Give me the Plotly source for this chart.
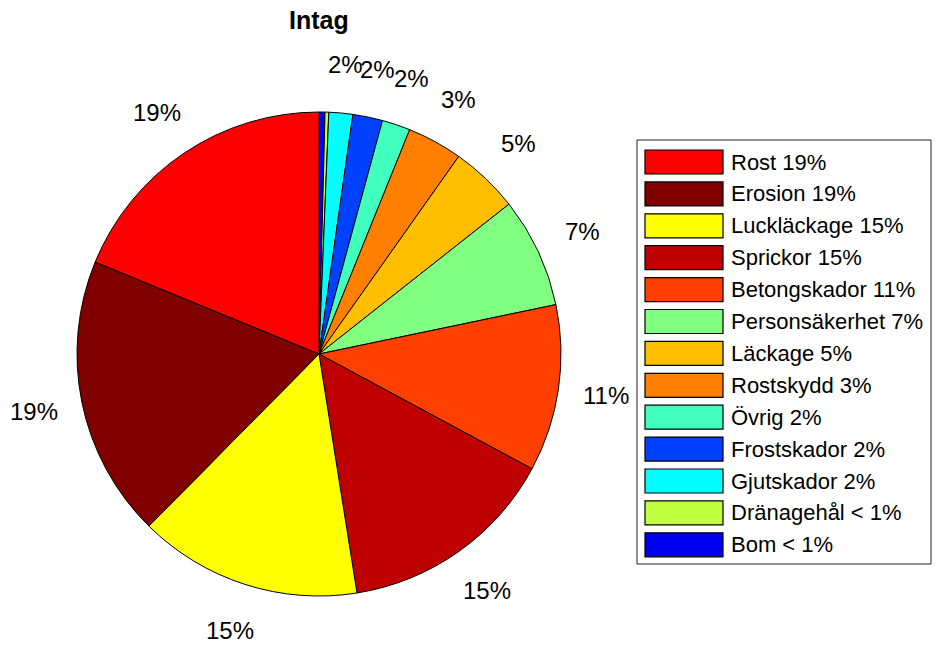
import numpy as np
import plotly.graph_objects as go

categories = ["Rost", "Erosion", "Luckläckage", "Sprickor", "Betongskador",
              "Personsäkerhet", "Läckage", "Rostskydd", "Övrig", "Frostskador",
              "Gjutskador", "Dränagehål", "Bom"]
values = [18.9, 18.9, 15.0, 14.7, 11.2, 7.4, 4.6, 3.7, 1.9, 2.0, 1.6, 0.25, 0.4]
pct_labels = ["19%", "19%", "15%", "15%", "11%", "7%", "5%", "3%", "2%", "2%", "2%", "", ""]
legend_labels = ["Rost 19%", "Erosion 19%", "Luckläckage 15%", "Sprickor 15%",
                 "Betongskador 11%", "Personsäkerhet 7%", "Läckage 5%", "Rostskydd 3%",
                 "Övrig 2%", "Frostskador 2%", "Gjutskador 2%", "Dränagehål < 1%", "Bom < 1%"]
colors = ["#FF0000", "#800000", "#FFFF00", "#BF0000", "#FF4000", "#80FF80",
          "#FFBF00", "#FF8000", "#40FFBF", "#0040FF", "#00FFFF", "#BFFF40", "#0000F0"]

W, H = 935, 646
CX, CY, R = 319, 354, 242
FONT = "Liberation Sans, Arial, Helvetica, sans-serif"

# MATLAB draws the first slice counterclockwise from 12 o'clock; equivalently,
# draw the reversed list clockwise from 12 o'clock.
fig = go.Figure(go.Pie(
    labels=categories[::-1], values=values[::-1], sort=False, direction="clockwise",
    rotation=0, textinfo="none", hoverinfo="label+percent",
    marker=dict(colors=colors[::-1], line=dict(color="black", width=1)),
    domain=dict(x=[(CX - R) / W, (CX + R) / W], y=[1 - (CY + R) / H, 1 - (CY - R) / H]),
    showlegend=False,
))

# percentage labels at 1.2 R on the mid-angle (as MATLAB pie does)
vals = np.array(values, dtype=float)
frac = vals / vals.sum()
cum = np.cumsum(frac) - frac / 2
annotations = []
for lab, c in zip(pct_labels, cum):
    if not lab:
        continue
    th = np.deg2rad(90 + 360 * c)
    x = CX + 1.2 * R * np.cos(th)
    y = CY - 1.2 * R * np.sin(th)
    annotations.append(dict(x=x / W, y=1 - y / H, xref="paper", yref="paper",
                            text=lab, showarrow=False, xanchor="center", yanchor="middle",
                            font=dict(size=24, color="black", family=FONT)))

annotations.append(dict(x=CX / W, y=1 - 20 / H, xref="paper", yref="paper",
                        text="<b>Intag</b>", showarrow=False, xanchor="center", yanchor="middle",
                        font=dict(size=25, color="black", family=FONT)))

# legend box
shapes = [dict(type="rect", xref="paper", yref="paper",
               x0=637 / W, x1=931 / W, y0=1 - 564 / H, y1=1 - 140 / H,
               line=dict(color="#222222", width=1), fillcolor="white", layer="below")]
row0, step = 162, 31.9
for i, (lab, col) in enumerate(zip(legend_labels, colors)):
    yc = row0 + i * step
    shapes.append(dict(type="rect", xref="paper", yref="paper",
                       x0=645 / W, x1=723 / W, y0=1 - (yc + 12) / H, y1=1 - (yc - 12) / H,
                       line=dict(color="black", width=1.2), fillcolor=col))
    annotations.append(dict(x=729 / W, y=1 - yc / H, xref="paper", yref="paper",
                            text=lab, showarrow=False, xanchor="left", yanchor="middle",
                            font=dict(size=22, color="black", family=FONT)))

fig.update_layout(width=W, height=H, margin=dict(l=0, r=0, t=0, b=0),
                  paper_bgcolor="white", plot_bgcolor="white",
                  annotations=annotations, shapes=shapes)
fig.write_html("out.html")
